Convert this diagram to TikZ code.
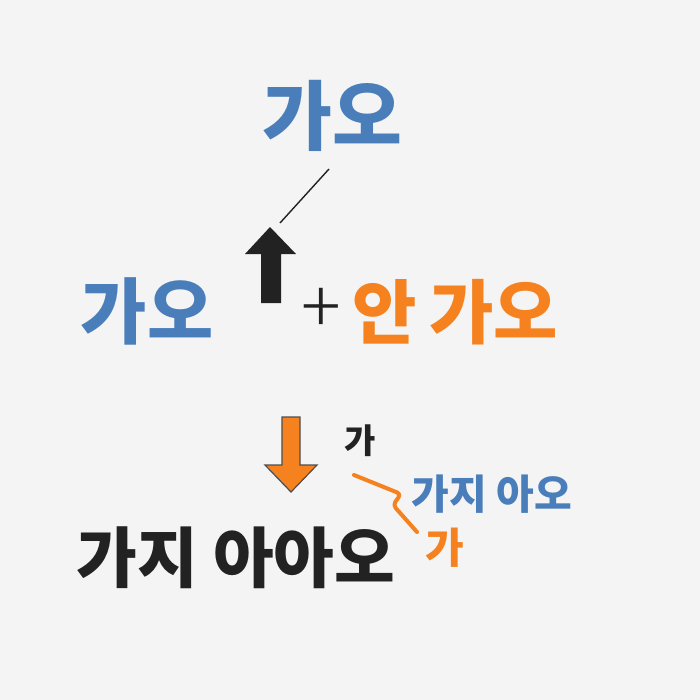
\documentclass[tikz,border=0pt]{standalone}
\usepackage{fontspec}
\newfontfamily\kr{Noto Sans CJK KR Black}
\newfontfamily\krlight{Noto Sans CJK KR Light}
\definecolor{bg}{HTML}{F4F4F4}
\definecolor{kblue}{HTML}{4A7EBB}
\definecolor{korange}{HTML}{F5821F}
\definecolor{kdark}{HTML}{222222}
\tikzset{
  lbl/.style={inner sep=0pt, anchor=center, font=\kr},
}
\begin{document}
\begin{tikzpicture}[x=1bp,y=-1bp]
\fill[bg] (0,0) rectangle (700,700);
\useasboundingbox (0,0) rectangle (700,700);

% texts
\node[lbl, text=kblue, font=\kr\fontsize{76bp}{80bp}\selectfont] (top) at (332,116) {가오};
\node[lbl, text=kblue, font=\kr\fontsize{72bp}{76bp}\selectfont] (left) at (147,311) {가오};
\node[lbl, text=korange, font=\kr\fontsize{70bp}{76bp}\selectfont] (right) at (455,312) {안\hspace{-0.05em} 가오};
\node[lbl, text=kdark, font=\krlight\fontsize{74bp}{78bp}\selectfont] (plus) at (321,311) {+};
\node[lbl, text=kdark, font=\kr\fontsize{34bp}{38bp}\selectfont] (ga1) at (360,441) {가};
\node[lbl, text=kblue, font=\kr\fontsize{41bp}{44bp}\selectfont] (blue2) at (492,494) {가지 아오};
\node[lbl, text=korange, font=\kr\fontsize{42bp}{46bp}\selectfont] (ga2) at (445,548) {가};
\node[lbl, text=kdark, font=\kr\fontsize{66bp}{70bp}\selectfont] (bottom) at (236,558) {가지 아아오};

% black up arrow
\fill[kdark] (270,227) -- (296,254) -- (281,254) -- (281,303) -- (261,303) -- (261,254) -- (245,254) -- cycle;
% thin line towards top label
\coordinate (l1) at (280,223);
\coordinate (l2) at (329,169);
\draw[kdark, line width=1.4bp] (l1) -- (l2);

% orange down arrow
\filldraw[fill=korange, draw=kdark!80, line width=1.2bp, line join=miter]
  (282,417) -- (300,417) -- (300,465) -- (317,465) -- (291,492) -- (265,465) -- (282,465) -- cycle;

% orange squiggle
\coordinate (s1) at (354,475);
\coordinate (s2) at (401,494);
\coordinate (s3) at (393,505);
\coordinate (s4) at (417,532);
\draw[korange, line width=4bp, line cap=round, line join=round, rounded corners=4bp]
  (s1) -- (s2) -- (s3) -- (s4);
\end{tikzpicture}
\end{document}
